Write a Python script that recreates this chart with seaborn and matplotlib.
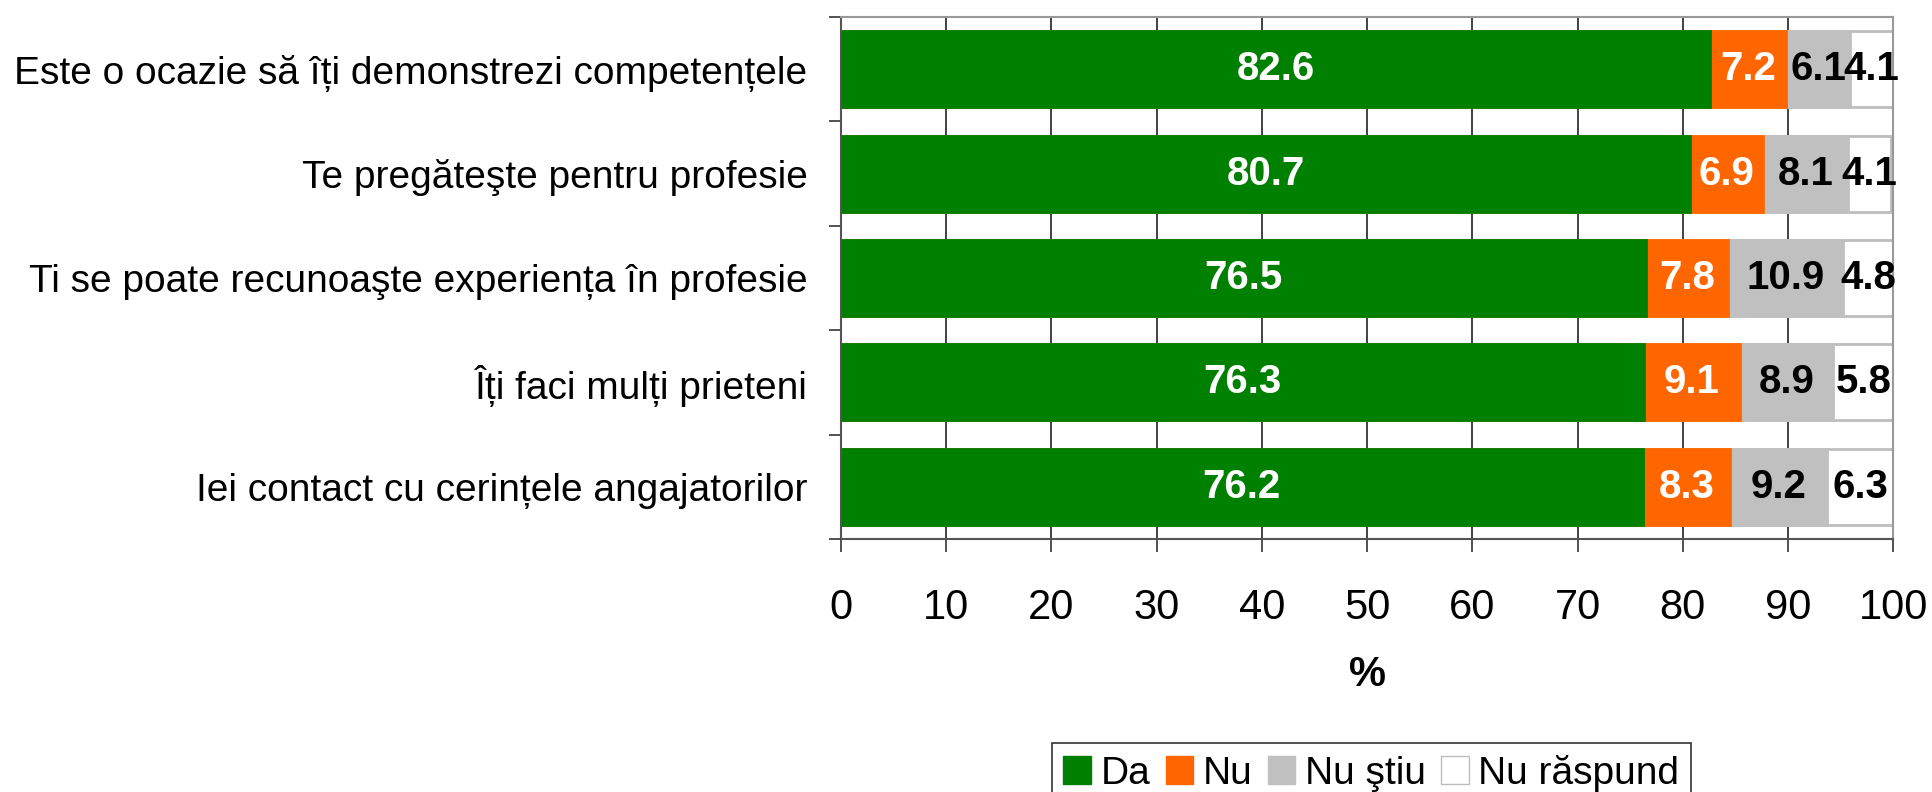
import numpy as np
import pandas as pd
import matplotlib.pyplot as plt
from matplotlib.patches import Patch
import seaborn as sns

# date din grafic (%)
categories = ['Este o ocazie să îți demonstrezi competențele',
              'Te pregăteşte pentru profesie',
              'Ti se poate recunoaşte experiența în profesie',
              'Îți faci mulți prieteni',
              'Iei contact cu cerințele angajatorilor']
da = [82.6, 80.7, 76.5, 76.3, 76.2]
nu = [7.2, 6.9, 7.8, 9.1, 8.3]
nu_stiu = [6.1, 8.1, 10.9, 8.9, 9.2]
nu_raspund = [4.1, 4.1, 4.8, 5.8, 6.3]
series_names = ['Da', 'Nu', 'Nu ştiu', 'Nu răspund']

colors = ['#008000', '#FF6600', '#C0C0C0', '#FFFFFF']
edges = ['#008000', '#FF6600', '#C0C0C0', '#BDBDBD']
text_colors = ['white', 'white', 'black', 'black']

df = pd.DataFrame({'cat': categories, 'Da': da, 'Nu': nu,
                   'Nu ştiu': nu_stiu, 'Nu răspund': nu_raspund})
cum = df[series_names].cumsum(axis=1)

sns.set_style('ticks')
plt.rcParams['font.family'] = ['Liberation Sans', 'DejaVu Sans']
plt.rcParams['text.color'] = 'black'
plt.rcParams['xtick.color'] = 'black'
plt.rcParams['ytick.color'] = 'black'
plt.rcParams['axes.labelcolor'] = 'black'

fig = plt.figure(figsize=(19.33, 7.92), dpi=100)
ax = fig.add_axes([0.435, 0.3195, 0.5445, 0.659])

# bare suprapuse: de la total spre primul segment
for i in reversed(range(len(series_names))):
    sns.barplot(x=cum[series_names[i]], y=df['cat'], orient='h', color=colors[i],
                saturation=1, width=0.73, edgecolor=edges[i], linewidth=2, ax=ax)

# etichete valori
for i, name in enumerate(series_names):
    left = cum[name] - df[name]
    for j in range(len(categories)):
        ax.text(left[j] + df[name][j] / 2, j, '{:.1f}'.format(df[name][j]),
                ha='center', va='center', fontsize=29, fontweight='bold',
                color=text_colors[i])

ax.set_xlim(0, 100)
ax.set_ylim(4.5, -0.5)
ax.set_xticks(np.arange(0, 101, 10))
ax.set_yticks(np.arange(-0.5, 5, 1), minor=True)
ax.tick_params(axis='y', which='major', length=0, pad=24, labelsize=28)
ax.tick_params(axis='y', which='minor', length=9, width=1.2, color='#333333')
ax.tick_params(axis='x', length=9, width=1.2, color='#333333', pad=26, labelsize=30)
ax.set_ylabel('')
ax.set_xlabel('%', fontsize=30, fontweight='bold', labelpad=20)

ax.xaxis.grid(True, color='#222222', linewidth=1.2)
ax.set_axisbelow(True)
for s in ['left', 'bottom']:
    ax.spines[s].set_color('#555555')
    ax.spines[s].set_linewidth(1.5)
for s in ['top', 'right']:
    ax.spines[s].set_color('#999999')
    ax.spines[s].set_linewidth(1.5)

handles = [Patch(facecolor=colors[i], edgecolor=edges[i], label=series_names[i])
           for i in range(4)]
leg = fig.legend(handles=handles, loc='upper center', bbox_to_anchor=(0.7095, 0.062),
                 ncol=4, frameon=True, fancybox=False, edgecolor='black', fontsize=28,
                 handlelength=0.7, handleheight=0.7, handletextpad=0.25,
                 columnspacing=0.4, borderaxespad=0, borderpad=0.3)
leg.get_frame().set_linewidth(1.2)

plt.savefig('out.png', dpi=100)
